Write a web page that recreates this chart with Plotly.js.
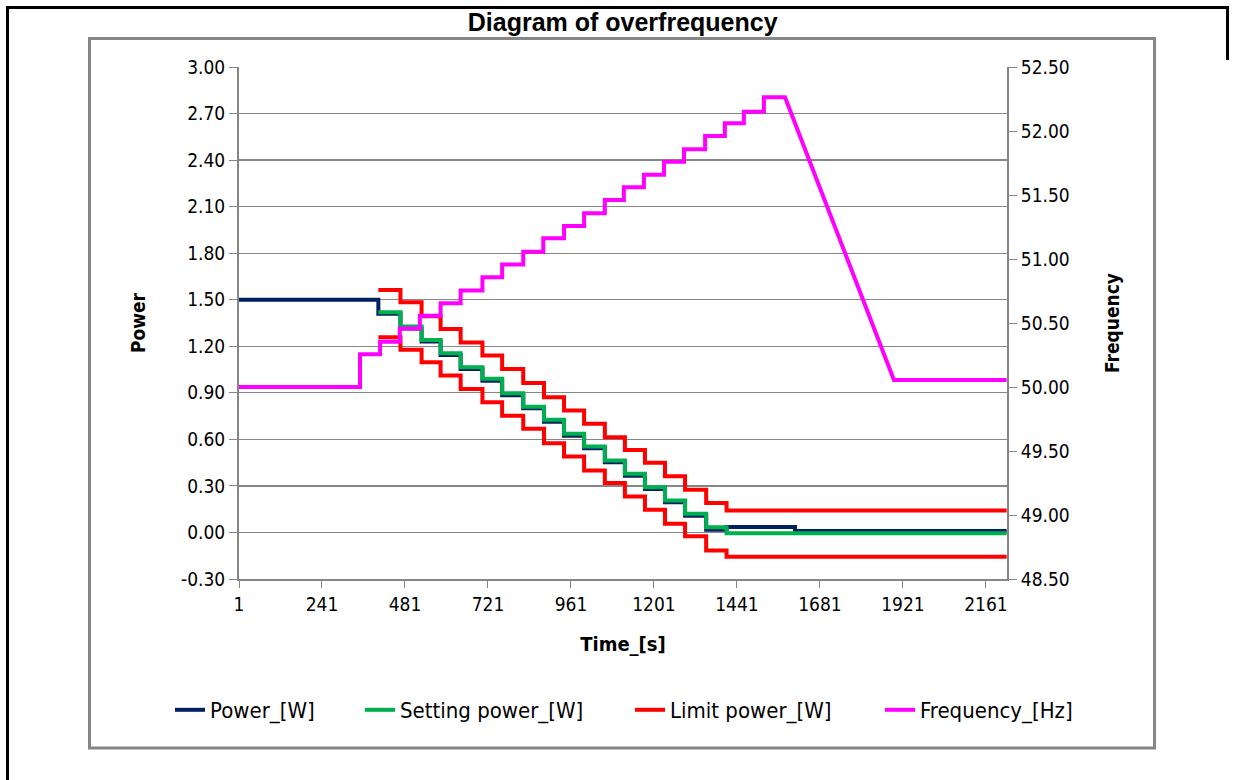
<!DOCTYPE html>
<html>
<head>
<meta charset="utf-8">
<script src="https://cdn.plot.ly/plotly-3.0.1.min.js"></script>
<style>
  html, body { margin: 0; padding: 0; background: #ffffff; }
  #chart { width: 1233px; height: 780px; }
</style>
</head>
<body>
<div id="chart"></div>
<script>
// ---------------- data ----------------
// Step change times [s] shared by the power-type series (start ... end)
const powerStepTimes = [404, 468, 529, 584, 642, 705, 762, 823, 883, 941, 999, 1059, 1117, 1175, 1233, 1291, 1352, 1411, 2221];

// Power_[W] (measured): flat before the first step, then levels per step, tail
const powerStartTime = 1;
const powerStartLevel = 1.50;
const powerLevels = [1.41, 1.315, 1.23, 1.143, 1.053, 0.978, 0.885, 0.80, 0.714, 0.624, 0.542, 0.452, 0.366, 0.28, 0.194, 0.108, 0.018];
const powerTailTimes = [1411, 1609, 2221];
const powerTailLevels = [0.035, 0.01];

// Setting power_[W]
const settingLevels = [1.419, 1.327, 1.241, 1.155, 1.065, 0.990, 0.897, 0.811, 0.726, 0.636, 0.554, 0.464, 0.378, 0.292, 0.206, 0.120, 0.034, -0.005];

// Limit power_[W] : upper and lower band
const limitUpperLevels = [1.563, 1.483, 1.393, 1.312, 1.225, 1.140, 1.054, 0.964, 0.871, 0.786, 0.700, 0.614, 0.532, 0.449, 0.363, 0.275, 0.190, 0.142];
const limitLowerLevels = [1.258, 1.178, 1.097, 1.011, 0.925, 0.839, 0.753, 0.668, 0.575, 0.489, 0.399, 0.318, 0.232, 0.146, 0.056, -0.024, -0.116, -0.157];

// Frequency_[Hz]: step times and levels, then ramp down and flat tail
const freqStepTimes = [1, 351, 409, 466, 524, 584, 642, 705, 762, 823, 881, 941, 999, 1059, 1114, 1172, 1230, 1288, 1349, 1406, 1461, 1519, 1580];
const freqLevels = [50.00, 50.255, 50.354, 50.458, 50.557, 50.654, 50.753, 50.857, 50.958, 51.057, 51.162, 51.258, 51.357, 51.461, 51.56, 51.659, 51.76, 51.857, 51.961, 52.06, 52.151, 52.263];
const freqRampEndTime = 1895;
const freqTailLevel = 50.055;
const freqEndTime = 2221;

// Axis ticks
const timeTicks = [1, 241, 481, 721, 961, 1201, 1441, 1681, 1921, 2161];
const powerTicks = [-0.30, 0.00, 0.30, 0.60, 0.90, 1.20, 1.50, 1.80, 2.10, 2.40, 2.70, 3.00];
const freqTicks = [48.5, 49.0, 49.5, 50.0, 50.5, 51.0, 51.5, 52.0, 52.5];

// ---------------- helpers: turn step tables into corner points ----------------
function steps(times, levels) {
  const x = [], y = [];
  for (let i = 0; i < levels.length; i++) {
    x.push(times[i], times[i + 1]);
    y.push(levels[i], levels[i]);
  }
  return {x, y};
}

// Power
const pA = steps([powerStartTime, powerStepTimes[0]], [powerStartLevel]);
const pB = steps(powerStepTimes.slice(0, powerLevels.length + 1), powerLevels);
const pC = steps(powerTailTimes, powerTailLevels);
const powerX = pA.x.concat(pB.x, pC.x);
const powerY = pA.y.concat(pB.y, pC.y);

// Setting
const sP = steps(powerStepTimes, settingLevels);

// Limit (two bands in one trace, separated by a gap)
const lU = steps(powerStepTimes, limitUpperLevels);
const lL = steps(powerStepTimes, limitLowerLevels);
const limitX = lU.x.concat([null], lL.x);
const limitY = lU.y.concat([null], lL.y);

// Frequency
const fS = steps(freqStepTimes, freqLevels);
const freqX = fS.x.concat([freqRampEndTime, freqEndTime]);
const freqY = fS.y.concat([freqTailLevel, freqTailLevel]);

// ---------------- plot ----------------
const narrow = "'Liberation Sans Narrow', 'DejaVu Sans Condensed', Arial, sans-serif";
const bold = "'Liberation Sans', Arial, sans-serif";

const traces = [
  {x: powerX, y: powerY, name: 'Power_[W]', mode: 'lines', legend: 'legend', line: {color: '#002060', width: 4}},
  {x: sP.x, y: sP.y, name: 'Setting power_[W]', mode: 'lines', legend: 'legend2', line: {color: '#00B050', width: 4}},
  {x: limitX, y: limitY, name: 'Limit power_[W]', mode: 'lines', legend: 'legend3', connectgaps: false, line: {color: '#FF0000', width: 4}},
  {x: freqX, y: freqY, name: 'Frequency_[Hz]', mode: 'lines', legend: 'legend4', yaxis: 'y2', line: {color: '#FF00FF', width: 4}}
];

// pixel -> paper helpers for frame decorations (plot area 239..1007 x 67..579)
const L = 239, R = 1007, T = 67, B = 579;
const px = v => (v - L) / (R - L);
const py = v => (B - v) / (B - T);

const legendFont = {family: narrow, size: 22, color: '#000000'};
function legendAt(xPix) {
  return {orientation: 'h', x: px(xPix), xanchor: 'left', y: py(710), yanchor: 'middle',
          font: legendFont, bgcolor: 'rgba(0,0,0,0)', borderwidth: 0};
}

const layout = {
  width: 1233, height: 780,
  margin: {l: L, r: 1233 - R, t: T, b: 780 - B, pad: 0},
  paper_bgcolor: '#ffffff', plot_bgcolor: '#ffffff',
  showlegend: true,
  title: {
    text: '<b>Diagram of overfrequency</b>',
    font: {family: bold, size: 25, color: '#000000'},
    x: 0.505, xanchor: 'center', y: 1 - 22 / 780, yanchor: 'middle'
  },
  xaxis: {
    range: [1, 2222], tickvals: timeTicks, ticktext: timeTicks.map(String),
    showgrid: false, zeroline: false,
    showline: true, linecolor: '#868686', linewidth: 2,
    ticks: 'outside', ticklen: 7, tickcolor: '#868686', tickwidth: 1,
    tickfont: {family: narrow, size: 19, color: '#000000'},
    title: {text: '<b>Time_[s]</b>', font: {family: narrow, size: 20, color: '#000000'}, standoff: 23},
    automargin: false
  },
  yaxis: {
    range: [-0.30, 3.00], tickvals: powerTicks, ticktext: powerTicks.map(v => v.toFixed(2)),
    showgrid: true, gridcolor: '#868686', gridwidth: 1.3, zeroline: false,
    showline: true, linecolor: '#868686', linewidth: 2,
    ticks: 'outside', ticklen: 8, tickcolor: '#868686', tickwidth: 1,
    tickfont: {family: narrow, size: 19, color: '#000000'},
    title: {text: '<b>Power</b>', font: {family: narrow, size: 19, color: '#000000'}, standoff: 30},
    automargin: false
  },
  yaxis2: {
    overlaying: 'y', side: 'right',
    range: [48.5, 52.5], tickvals: freqTicks, ticktext: freqTicks.map(v => v.toFixed(2)),
    showgrid: false, zeroline: false,
    showline: true, linecolor: '#868686', linewidth: 2,
    ticks: 'outside', ticklen: 8, tickcolor: '#868686', tickwidth: 1,
    tickfont: {family: narrow, size: 19, color: '#000000'},
    title: {text: '<b>Frequency</b>', font: {family: narrow, size: 19, color: '#000000'}, standoff: 37},
    automargin: false
  },
  legend: legendAt(170),
  legend2: legendAt(360),
  legend3: legendAt(630),
  legend4: legendAt(880),
  shapes: [
    // outer black frame (left, top, short right)
    {type: 'line', xref: 'paper', yref: 'paper', x0: px(7.5), x1: px(7.5), y0: py(7), y1: py(790), line: {color: '#000000', width: 3}},
    {type: 'line', xref: 'paper', yref: 'paper', x0: px(6), x1: px(1229), y0: py(7.5), y1: py(7.5), line: {color: '#000000', width: 3}},
    {type: 'line', xref: 'paper', yref: 'paper', x0: px(1227.5), x1: px(1227.5), y0: py(6), y1: py(60), line: {color: '#000000', width: 3}},
    // gray chart-area box
    {type: 'rect', xref: 'paper', yref: 'paper', x0: px(89.5), x1: px(1154.5), y0: py(38.5), y1: py(748), line: {color: '#868686', width: 3}, fillcolor: 'rgba(0,0,0,0)'}
  ]
};

Plotly.newPlot('chart', traces, layout, {displayModeBar: false, staticPlot: true});
</script>
</body>
</html>
